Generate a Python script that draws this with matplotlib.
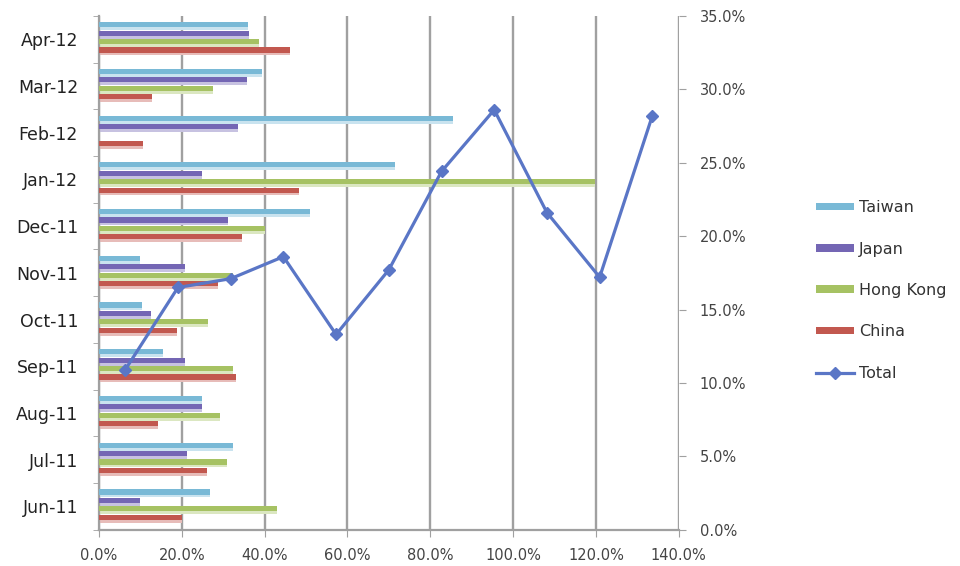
import numpy as np
import matplotlib.pyplot as plt
from matplotlib.ticker import FuncFormatter, FixedLocator
from matplotlib.colors import to_rgb

months = ['Jun-11', 'Jul-11', 'Aug-11', 'Sep-11', 'Oct-11', 'Nov-11',
          'Dec-11', 'Jan-12', 'Feb-12', 'Mar-12', 'Apr-12']

# growth by market, fraction (1.0 = 100%)
taiwan = [0.268, 0.324, 0.248, 0.155, 0.103, 0.099, 0.510, 0.716, 0.856, 0.394, 0.360]
japan = [0.099, 0.212, 0.248, 0.208, 0.127, 0.208, 0.312, 0.248, 0.337, 0.357, 0.363]
hong_kong = [0.430, 0.309, 0.292, 0.324, 0.264, 0.324, 0.401, 1.199, 0.0, 0.276, 0.387]
china = [0.200, 0.261, 0.143, 0.330, 0.188, 0.288, 0.345, 0.482, 0.107, 0.128, 0.462]
total = [0.109, 0.165, 0.171, 0.186, 0.133, 0.177, 0.244, 0.286, 0.216, 0.172, 0.282]

series = [('Taiwan', taiwan, '#79b9d6'),
          ('Japan', japan, '#7466b4'),
          ('Hong Kong', hong_kong, '#a6c263'),
          ('China', china, '#c2584f')]
offsets = [0.30, 0.12, -0.06, -0.24]
line_color = '#5a76c6'
grid_color = '#a0a0a0'
text_color = '#444444'


def lighten(c, k):
    r, g, b = to_rgb(c)
    return (r + (1 - r) * k, g + (1 - g) * k, b + (1 - b) * k)


pct = FuncFormatter(lambda v, _: f'{v * 100:.1f}%')

fig = plt.figure(figsize=(9.6, 5.66), dpi=100)
rect = [0.103, 0.064, 0.604, 0.908]
ax = fig.add_axes(rect)

y = np.arange(len(months))
handles = []
for (name, vals, col), off in zip(series, offsets):
    # pale lower edge under each bar, then the bar itself
    ax.barh(y + off - 0.035, vals, height=0.14, color=lighten(col, 0.6), zorder=2)
    h = ax.barh(y + off + 0.01, vals, height=0.11, color=col, zorder=3, label=name)
    handles.append(h)

ax.set_xlim(0, 1.4)
ax.set_ylim(-0.5, len(months) - 0.5)
ax.set_xticks(np.arange(0, 1.41, 0.2))
ax.xaxis.set_major_formatter(pct)
ax.set_yticks(y)
ax.set_yticklabels(months, fontsize=12.5, color='#222222')
ax.yaxis.set_minor_locator(FixedLocator(np.arange(-0.5, len(months), 1.0)))
ax.tick_params(axis='y', which='major', length=0, pad=15)
ax.tick_params(axis='y', which='minor', length=4, color=grid_color, direction='out')
ax.tick_params(axis='x', length=5, color=grid_color, labelsize=10.5,
               labelcolor=text_color, pad=8)
ax.grid(axis='x', color=grid_color, linewidth=1.7, zorder=0)
ax.set_axisbelow(True)
for s in ['top', 'right']:
    ax.spines[s].set_visible(False)
for s in ['left', 'bottom']:
    ax.spines[s].set_color(grid_color)
    ax.spines[s].set_linewidth(1.6)

# total growth on its own category axis with the scale on the right
ax2 = fig.add_axes(rect, frameon=False)
ln, = ax2.plot(y + 0.5, total, color=line_color, linewidth=2.3, marker='D',
               markersize=6, label='Total', zorder=5)
ax2.set_xlim(0, len(months))
ax2.set_ylim(0, 0.35)
ax2.xaxis.set_visible(False)
ax2.yaxis.tick_right()
ax2.set_yticks(np.arange(0, 0.351, 0.05))
ax2.yaxis.set_major_formatter(pct)
ax2.tick_params(axis='y', length=5, color=grid_color, labelsize=10.5,
                labelcolor=text_color, pad=10)
ax2.spines['right'].set_visible(True)
ax2.spines['right'].set_color(grid_color)
ax2.spines['right'].set_linewidth(1.6)

leg = fig.legend(handles + [ln], [h.get_label() for h in handles] + ['Total'],
                 loc='center left', bbox_to_anchor=(0.835, 0.487), frameon=False,
                 fontsize=11.5, handlelength=2.4, handleheight=0.35,
                 labelspacing=1.65, handletextpad=0.3)
for t in leg.get_texts():
    t.set_color('#333333')

fig.savefig('out.png', dpi=100)
